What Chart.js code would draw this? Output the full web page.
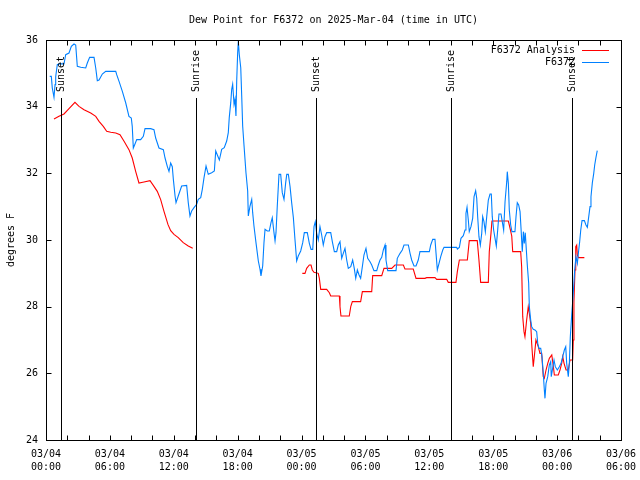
<!DOCTYPE html>
<html><head><meta charset="utf-8">
<script src="https://cdn.jsdelivr.net/npm/chart.js@4.4.1/dist/chart.umd.min.js"></script>
<style>html,body{margin:0;padding:0;background:#fff;}canvas{display:block;}</style>
</head><body>
<canvas id="c" width="640" height="480"></canvas>
<script>
const TITLE = 'Dew Point for F6372 on 2025-Mar-04 (time in UTC)';
const Y_TITLE = 'degrees F';
const seriesNames = ['F6372 Analysis', 'F6372'];
const tickDates = ['03/04','03/04','03/04','03/04','03/05','03/05','03/05','03/05','03/06','03/06'];
const tickTimes = ['00:00','06:00','12:00','18:00','00:00','06:00','12:00','18:00','00:00','06:00'];
const sunHours = [1.41, 14.09, 25.36, 38.04, 49.40];
const sunLabels = ['Sunset','Sunrise','Sunset','Sunrise','Sunset'];

// hours since 03/04 00:00 UTC
const obsHours = [
0.35,0.50,0.59,0.75,0.85,0.91,1.06,1.31,1.69,1.85,
2.16,2.38,2.63,2.79,2.94,3.26,3.73,3.88,4.10,4.51,
4.67,4.82,4.98,5.29,5.61,6.08,6.55,6.64,6.86,7.17,
7.49,7.79,8.01,8.10,8.20,8.33,8.52,8.89,9.14,9.30,
9.83,10.14,10.30,10.61,11.02,11.18,11.39,11.55,11.71,11.86,
11.96,12.12,12.21,12.42,12.74,13.21,13.36,13.52,13.68,13.90,
14.15,14.30,14.53,14.68,14.84,15.03,15.24,15.56,15.81,15.94,
16.13,16.28,16.50,16.74,16.97,17.12,17.21,17.35,17.44,17.53,
17.66,17.75,17.84,17.91,18.00,18.06,18.15,18.29,18.38,18.47,
18.60,18.78,18.94,19.00,19.16,19.32,19.41,19.53,19.72,19.84,
19.94,20.10,20.19,20.35,20.47,20.57,20.78,20.97,21.13,21.25,
21.41,21.51,21.60,21.72,21.88,22.04,22.19,22.35,22.51,22.61,
22.76,22.92,23.07,23.23,23.38,23.54,23.69,23.92,24.11,24.26,
24.54,24.73,24.89,25.05,25.17,25.29,25.42,25.57,25.73,25.89,
26.04,26.20,26.36,26.74,26.89,27.08,27.30,27.45,27.61,27.77,
27.92,28.08,28.24,28.39,28.62,28.80,28.95,29.09,29.24,29.40,
29.55,29.71,29.86,30.05,30.21,30.43,30.59,30.80,31.06,31.21,
31.37,31.53,31.68,31.84,31.93,32.09,32.87,32.99,33.25,33.46,
33.62,34.03,34.19,34.34,34.56,34.75,34.96,35.12,36.00,36.13,
36.32,36.53,36.63,36.75,36.91,37.07,37.26,37.38,38.57,38.63,
38.82,38.97,39.19,39.35,39.44,39.54,39.66,39.75,39.91,40.07,
40.20,40.35,40.45,40.54,40.66,40.79,40.92,41.01,41.13,41.26,
41.39,41.54,41.70,41.82,41.91,42.04,42.17,42.29,42.42,42.54,
42.73,42.85,42.98,43.11,43.27,43.32,43.42,43.51,43.64,43.76,
44.04,44.14,44.26,44.39,44.52,44.61,44.73,44.83,44.92,45.01,
45.11,45.20,45.33,45.39,45.52,45.61,45.76,45.92,46.08,46.18,
46.30,46.46,46.58,46.70,46.80,46.86,46.96,47.12,47.27,47.40,
47.45,47.58,47.71,47.83,48.02,48.21,48.37,48.53,48.68,48.81,
48.90,49.05,49.15,49.24,49.37,49.52,49.65,49.77,49.90,50.03,
50.12,50.22,50.34,50.56,50.71,50.84,50.97,51.09,51.18,51.31,
51.44,51.53,51.65,51.77];
const obsValues = [
34.91,34.91,34.56,34.28,34.66,34.90,35.26,35.29,35.28,35.56,
35.61,35.81,35.88,35.85,35.21,35.18,35.16,35.31,35.48,35.48,
35.16,34.78,34.80,34.98,35.06,35.06,35.06,34.96,34.76,34.46,
34.11,33.71,33.66,33.41,32.76,32.86,33.01,33.01,33.11,33.34,
33.34,33.31,33.06,32.76,32.71,32.46,32.21,32.06,32.31,32.20,
31.82,31.32,31.12,31.32,31.62,31.64,31.12,30.72,30.87,30.97,
31.07,31.22,31.27,31.52,31.87,32.22,31.97,32.02,32.07,32.67,
32.52,32.40,32.72,32.77,32.97,33.22,33.67,34.12,34.52,34.67,
34.07,34.22,33.72,34.77,35.62,35.97,35.57,35.17,34.32,33.42,
32.82,32.02,31.47,30.72,31.02,31.22,30.82,30.42,29.92,29.62,
29.37,29.12,28.92,29.22,29.92,30.32,30.27,30.27,30.52,30.67,
30.22,29.97,30.22,31.02,31.97,31.97,31.42,31.22,31.72,31.97,
31.97,31.60,31.12,30.67,30.02,29.37,29.52,29.67,29.92,30.22,
30.22,29.90,29.72,29.72,30.40,30.55,30.20,30.00,30.40,30.15,
29.85,30.10,30.22,30.22,29.95,29.65,29.65,29.85,29.95,29.45,
29.60,29.75,29.40,29.15,29.20,29.40,29.15,28.85,29.10,28.95,
28.85,29.20,29.55,29.75,29.45,29.35,29.25,29.08,29.08,29.25,
29.40,29.48,29.70,29.85,29.40,29.08,29.08,29.45,29.60,29.70,
29.85,29.85,29.60,29.40,29.22,29.22,29.40,29.65,29.65,29.85,
30.02,30.02,29.60,29.10,29.30,29.50,29.70,29.78,29.78,29.73,
29.78,30.05,30.13,30.30,30.80,30.98,30.60,30.25,30.40,30.65,
31.30,31.48,31.25,30.70,30.10,29.85,30.20,30.70,30.55,30.25,
30.70,31.20,31.38,31.38,30.70,30.30,30.05,29.82,30.30,30.78,
30.78,30.55,30.30,31.15,31.75,32.05,31.70,30.90,30.45,30.25,
30.25,30.70,31.12,31.05,30.85,30.35,29.65,30.25,29.90,30.22,
29.70,29.25,28.70,28.00,27.60,27.40,27.32,27.30,27.25,26.90,
26.75,26.75,26.50,26.00,25.50,25.25,25.70,25.90,26.25,26.35,
25.90,26.15,26.40,26.20,26.10,26.20,26.30,26.50,26.70,26.80,
26.30,25.90,26.30,27.10,27.75,28.40,29.10,29.50,29.30,29.70,
29.95,30.30,30.58,30.58,30.45,30.38,30.70,31.00,31.30,31.72,
32.00,32.25,32.48,32.68];

const anaHours = [
0.75,1.22,1.69,2.16,2.72,3.10,3.57,4.20,4.67,4.98,
5.38,5.70,6.08,6.55,6.95,7.33,7.79,8.10,8.42,8.73,
9.20,9.77,10.14,10.45,10.77,11.08,11.46,11.71,12.02,12.42,
12.89,13.36,13.78,19.00,24.07,24.32,24.48,24.73,24.89,25.01,
25.17,25.57,25.67,25.80,26.36,26.61,26.74,27.55,27.61,27.70,
28.48,28.62,28.77,29.55,29.71,30.59,30.68,31.53,31.74,32.47,
32.78,33.56,33.71,34.49,34.75,35.59,35.75,36.53,36.69,37.63,
37.78,38.50,38.63,38.82,39.57,39.75,40.50,40.66,40.82,41.54,
41.63,41.79,41.88,43.42,43.51,43.74,43.83,44.58,44.67,44.77,
44.89,44.98,45.14,45.29,45.39,45.52,45.61,45.76,45.92,46.01,
46.23,46.39,46.55,46.70,46.80,46.96,47.12,47.27,47.50,47.65,
47.74,48.11,48.27,48.43,48.53,48.65,48.84,49.05,49.21,49.46,
49.52,49.58,49.68,49.75,49.84,49.90,50.00,50.56];
const anaValues = [
33.63,33.71,33.78,33.94,34.13,34.01,33.91,33.81,33.71,33.56,
33.41,33.26,33.23,33.21,33.16,32.96,32.71,32.46,32.06,31.71,
31.74,31.78,31.61,31.46,31.21,30.86,30.46,30.28,30.17,30.07,
29.92,29.82,29.75,null,29.00,29.00,29.15,29.25,29.25,29.10,
29.03,29.00,28.85,28.52,28.52,28.42,28.32,28.32,28.00,27.72,
27.72,28.00,28.15,28.15,28.45,28.45,28.93,28.93,29.15,29.15,
29.25,29.25,29.13,29.13,28.85,28.85,28.87,28.87,28.82,28.82,
28.73,28.73,29.05,29.40,29.40,29.98,29.98,29.40,28.73,28.73,
29.65,30.20,30.57,30.57,30.45,30.12,29.65,29.65,29.20,27.70,
27.25,27.10,27.60,28.00,27.80,27.50,26.90,26.20,26.70,27.00,
26.80,26.60,26.60,25.90,25.85,26.10,26.30,26.45,26.55,26.20,
25.95,25.95,26.10,26.30,26.50,26.30,26.10,26.10,26.40,26.40,
27.00,28.15,29.10,29.80,29.85,29.55,29.47,29.47];

const MONO = '"DejaVu Sans Mono", "Liberation Mono", monospace';
const toPts = (hs, vs) => hs.map((h, i) => ({x: h, y: vs[i]}));
const SUN_LINE_TOP = 34.26;

const decor = {
  id: 'decor',
  afterDraw(chart) {
    const {ctx, chartArea: a, scales: {x, y}} = chart;
    ctx.save();
    ctx.strokeStyle = '#000';
    ctx.lineWidth = 1;
    const L = Math.round(a.left) + 0.5, R = Math.round(a.right) + 0.5;
    const T = Math.round(a.top) + 0.5, B = Math.round(a.bottom) + 0.5;
    ctx.beginPath();
    for (let h = 2; h < 54; h += 2) {
      const px = Math.round(x.getPixelForValue(h)) + 0.5;
      ctx.moveTo(px, B); ctx.lineTo(px, B - 5);
      ctx.moveTo(px, T); ctx.lineTo(px, T + 5);
    }
    for (let v = 26; v < 36; v += 2) {
      const py = Math.round(y.getPixelForValue(v)) + 0.5;
      ctx.moveTo(L, py); ctx.lineTo(L + 5, py);
      ctx.moveTo(R, py); ctx.lineTo(R - 5, py);
    }
    ctx.stroke();
    // sun lines
    ctx.font = '10px ' + MONO;
    ctx.fillStyle = '#000';
    sunHours.forEach((h, i) => {
      const px = Math.round(x.getPixelForValue(h)) + 0.5;
      const top = Math.round(y.getPixelForValue(SUN_LINE_TOP));
      ctx.beginPath(); ctx.moveTo(px, B); ctx.lineTo(px, top); ctx.stroke();
      ctx.save();
      ctx.translate(px, top - 6);
      ctx.rotate(-Math.PI / 2);
      ctx.textAlign = 'left'; ctx.textBaseline = 'middle';
      ctx.fillText(sunLabels[i], 0, 0);
      ctx.restore();
    });
    // frame
    ctx.strokeRect(L, T, R - L, B - T);
    // title
    ctx.textAlign = 'center'; ctx.textBaseline = 'middle';
    ctx.fillText(TITLE, (a.left + a.right) / 2, 20);
    // y title
    ctx.save();
    ctx.translate(11, (a.top + a.bottom) / 2);
    ctx.rotate(-Math.PI / 2);
    ctx.fillText(Y_TITLE, 0, 0);
    ctx.restore();
    // legend
    const cols = ['#ff0000', '#0080ff'];
    seriesNames.forEach((n, i) => {
      const ly = 50 + i * 12;
      ctx.textAlign = 'right';
      ctx.fillStyle = '#000';
      ctx.fillText(n, a.right - 46, ly);
      ctx.strokeStyle = cols[i];
      ctx.beginPath();
      ctx.moveTo(a.right - 39, Math.round(ly) + 0.5);
      ctx.lineTo(a.right - 12, Math.round(ly) + 0.5);
      ctx.stroke();
    });
    ctx.restore();
  }
};

new Chart(document.getElementById('c'), {
  type: 'line',
  data: {
    datasets: [
      {label: seriesNames[1], data: toPts(obsHours, obsValues), borderColor: '#0080ff',
       borderWidth: 1.1, pointRadius: 0, tension: 0, fill: false, order: 0},
      {label: seriesNames[0], data: toPts(anaHours, anaValues), borderColor: '#ff0000',
       borderWidth: 1.1, pointRadius: 0, tension: 0, fill: false, spanGaps: false, order: 1}
    ]
  },
  options: {
    responsive: false,
    animation: false,
    devicePixelRatio: 1,
    layout: {padding: {top: 40, right: 19, left: 0, bottom: 0}},
    plugins: {legend: {display: false}, tooltip: {enabled: false}, title: {display: false}},
    scales: {
      x: {
        type: 'linear', min: 0, max: 54,
        grid: {display: false, drawTicks: false},
        border: {display: false},
        ticks: {
          stepSize: 2, autoSkip: false, maxRotation: 0, minRotation: 0, padding: 8,
          color: '#000', font: {family: MONO, size: 10, lineHeight: 1.3},
          callback: (v) => (v % 6 === 0 ? [tickDates[v / 6], tickTimes[v / 6]] : '')
        },
        afterFit: (s) => { s.height = 40; s.paddingLeft = 0; s.paddingRight = 0; }
      },
      y: {
        type: 'linear', min: 24, max: 36,
        grid: {display: false, drawTicks: false},
        border: {display: false},
        ticks: {stepSize: 2, padding: 8, color: '#000', font: {family: MONO, size: 10}},
        afterFit: (s) => { s.width = 46; s.paddingTop = 0; s.paddingBottom = 0; }
      }
    }
  },
  plugins: [decor]
});
</script>
</body></html>
